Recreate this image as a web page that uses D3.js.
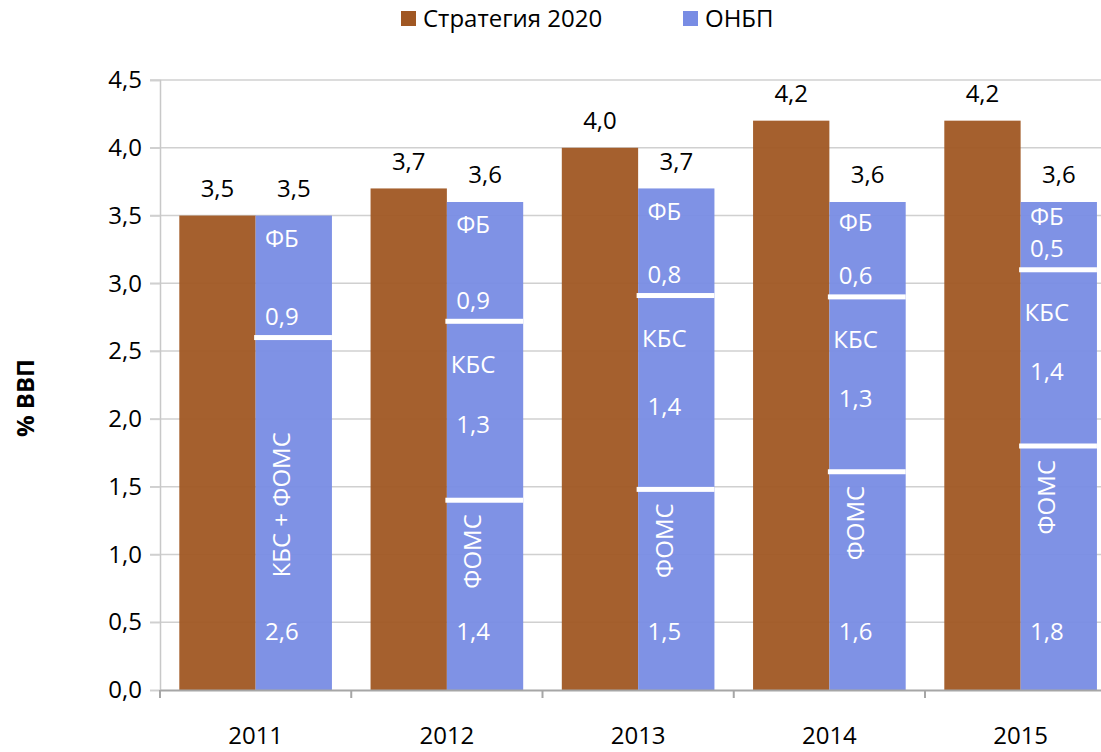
<!DOCTYPE html>
<html>
<head>
<meta charset="utf-8">
<script src="https://cdn.jsdelivr.net/npm/d3@7"></script>
<style>
  html, body { margin: 0; padding: 0; background: #fff; }
  svg { display: block; }
  text { font-family: "Open Sans", "Noto Sans", sans-serif; }
</style>
</head>
<body>
<div id="chart"></div>
<script>
// data
const years = ["2011", "2012", "2013", "2014", "2015"];
const strategy = [3.5, 3.7, 4.0, 4.2, 4.2];
const onbpTotal = [3.5, 3.6, 3.7, 3.6, 3.6];
// ОНБП split, bottom to top (2011: КБС and ФОМС are one piece)
const fomsPart = [2.6, 1.40, 1.48, 1.61, 1.80];
const kbsPart = [0, 1.32, 1.43, 1.29, 1.30];
const fbPart = [0.9, 0.88, 0.79, 0.70, 0.50];
const fomsNames = ["КБС + ФОМС", "ФОМС", "ФОМС", "ФОМС", "ФОМС"];
const fomsLabels = ["2,6", "1,4", "1,5", "1,6", "1,8"];
const kbsLabels = ["", "1,3", "1,4", "1,3", "1,4"];
const fbLabels = ["0,9", "0,9", "0,8", "0,6", "0,5"];
const yTicks = [0, 0.5, 1, 1.5, 2, 2.5, 3, 3.5, 4, 4.5];
const seriesNames = ["Стратегия 2020", "ОНБП"];

const W = 1101, H = 752;
const margin = { top: 80, left: 160, bottom: 62 };
const step = 191.25;
const brown = "#a05723", blue = "#788ce4";
const fs = 24;

const fmt = v => d3.format(".1f")(v).replace(".", ",");

const svg = d3.select("#chart").append("svg")
    .attr("width", W)
    .attr("height", H);

const x = d3.scaleBand()
    .domain(years)
    .range([margin.left, margin.left + step * years.length]);

const xSub = d3.scaleBand()
    .domain(["strategy", "onbp"])
    .range([0, x.bandwidth()])
    .paddingOuter(0.253);

const y = d3.scaleLinear()
    .domain([0, 4.5])
    .range([H - margin.bottom, margin.top]);

// gridlines
svg.append("g")
    .selectAll("line")
    .data(yTicks.filter(d => d > 0))
    .join("line")
    .attr("x1", margin.left - 10)
    .attr("x2", W)
    .attr("y1", d => y(d))
    .attr("y2", d => y(d))
    .attr("stroke", "#d0d0d0")
    .attr("stroke-width", 1.5);

// y axis
const yAxis = d3.axisLeft(y).tickValues(yTicks).tickFormat(fmt).tickSize(10).tickPadding(8);
const gy = svg.append("g")
    .attr("transform", `translate(${margin.left},0)`)
    .call(yAxis);
gy.select(".domain").attr("stroke", "#c8c8c8").attr("stroke-width", 1.5);
gy.selectAll(".tick line").attr("stroke", "#d0d0d0").attr("stroke-width", 1.5);
gy.selectAll(".tick text")
    .attr("font-size", fs)
    .attr("fill", "#000")
    .style("font-family", "'Open Sans', sans-serif");

// bars
const idx = d3.range(years.length);

svg.append("g")
    .selectAll("rect")
    .data(idx)
    .join("rect")
    .attr("x", i => x(years[i]) + xSub("strategy"))
    .attr("width", xSub.bandwidth())
    .attr("y", i => y(strategy[i]))
    .attr("height", i => y(0) - y(strategy[i]))
    .attr("fill", brown)
    .attr("fill-opacity", 0.95);

// stacked ОНБП
const stackRows = idx.map(i => ({ i, foms: fomsPart[i], kbs: kbsPart[i], fb: fbPart[i] }));
const stacked = d3.stack().keys(["foms", "kbs", "fb"])(stackRows);

svg.append("g")
    .selectAll("g")
    .data(stacked)
    .join("g")
    .selectAll("rect")
    .data(d => d.filter(s => s[1] - s[0] > 0))
    .join("rect")
    .attr("x", s => x(years[s.data.i]) + xSub("onbp"))
    .attr("width", xSub.bandwidth())
    .attr("y", s => y(s[1]))
    .attr("height", s => y(s[0]) - y(s[1]))
    .attr("fill", blue)
    .attr("fill-opacity", 0.95);

// white separators between segments
const seps = [];
stacked.slice(0, 2).forEach(layer => layer.forEach(s => {
  if (s[1] - s[0] > 0) seps.push({ i: s.data.i, v: s[1] });
}));
svg.append("g")
    .selectAll("rect")
    .data(seps)
    .join("rect")
    .attr("x", d => x(years[d.i]) + xSub("onbp") - 1.5)
    .attr("width", xSub.bandwidth() + 1.5)
    .attr("y", d => y(d.v) - 2.5)
    .attr("height", 5)
    .attr("fill", "#fff");

// x axis
const xAxis = d3.axisBottom(x).tickSize(0).tickPadding(37);
const gx = svg.append("g")
    .attr("transform", `translate(0,${y(0)})`)
    .call(xAxis);
gx.select(".domain").attr("stroke", "#a6a6a6").attr("stroke-width", 2);
gx.selectAll(".tick text")
    .attr("font-size", fs)
    .attr("fill", "#000")
    .style("font-family", "'Open Sans', sans-serif");
// category boundary ticks
gx.append("g")
    .selectAll("line")
    .data(years.concat(["end"]))
    .join("line")
    .attr("x1", (d, k) => margin.left + k * step)
    .attr("x2", (d, k) => margin.left + k * step)
    .attr("y1", 0)
    .attr("y2", 8)
    .attr("stroke", "#a6a6a6")
    .attr("stroke-width", 2);

// value labels above bars
const topLabels = svg.append("g").attr("font-size", fs).attr("text-anchor", "middle").attr("fill", "#000");
topLabels.selectAll("text.s")
    .data(idx)
    .join("text")
    .attr("class", "s")
    .attr("x", i => x(years[i]) + xSub("strategy") + xSub.bandwidth() / 2)
    .attr("y", i => y(strategy[i]) - 27)
    .attr("dy", "0.35em")
    .text(i => fmt(strategy[i]));
topLabels.selectAll("text.o")
    .data(idx)
    .join("text")
    .attr("class", "o")
    .attr("x", i => x(years[i]) + xSub("onbp") + xSub.bandwidth() / 2)
    .attr("y", i => y(onbpTotal[i]) - 27)
    .attr("dy", "0.35em")
    .text(i => fmt(onbpTotal[i]));

// labels inside ОНБП bars
const inner = svg.append("g").attr("font-size", fs).attr("text-anchor", "middle").attr("fill", "#fff");
const cx = i => x(years[i]) + xSub("onbp") + xSub.bandwidth() / 2 - 12;
const innerLabels = [];
idx.forEach(i => {
  const fTop = fomsPart[i], kTop = fomsPart[i] + kbsPart[i], total = kTop + fbPart[i];
  const fbH = y(kTop) - y(total);
  innerLabels.push({ i, t: "ФБ", y: y(total) + Math.min(23, fbH * 0.22) });
  innerLabels.push({ i, t: fbLabels[i], y: y(kTop) - 21 });
  if (kbsPart[i] > 0) {
    innerLabels.push({ i, t: "КБС", y: y(kTop) + 43 });
    innerLabels.push({ i, t: kbsLabels[i], y: (y(kTop) + y(fTop)) / 2 + 14 });
  }
  innerLabels.push({ i, t: fomsLabels[i], y: y(0) - 58 });
});
inner.selectAll("text")
    .data(innerLabels)
    .join("text")
    .attr("x", d => cx(d.i))
    .attr("y", d => d.y)
    .attr("dy", "0.35em")
    .text(d => d.t);

// rotated ФОМС names
inner.append("g")
    .selectAll("text")
    .data(idx)
    .join("text")
    .attr("text-anchor", i => kbsPart[i] > 0 ? "end" : "middle")
    .attr("transform", i => {
      const yy = kbsPart[i] > 0 ? y(fomsPart[i]) + 14 : (y(fomsPart[i]) + y(0)) / 2 - 9;
      return `translate(${cx(i)},${yy}) rotate(-90)`;
    })
    .attr("dy", "0.35em")
    .text(i => fomsNames[i]);

// y title
svg.append("text")
    .attr("transform", "translate(26,398) rotate(-90)")
    .attr("text-anchor", "middle")
    .attr("dy", "0.35em")
    .attr("font-size", fs)
    .attr("font-weight", "bold")
    .text("% ВВП");

// legend
const legend = svg.append("g").attr("font-size", fs);
const legendX = [401, 683];
const legendColors = [brown, blue];
const li = legend.selectAll("g")
    .data(seriesNames)
    .join("g")
    .attr("transform", (d, k) => `translate(${legendX[k]},11)`);
li.append("rect")
    .attr("width", 15)
    .attr("height", 15)
    .attr("fill", (d, k) => legendColors[k]);
li.append("text")
    .attr("x", 22)
    .attr("y", 8)
    .attr("dy", "0.35em")
    .text(d => d);
</script>
</body>
</html>
